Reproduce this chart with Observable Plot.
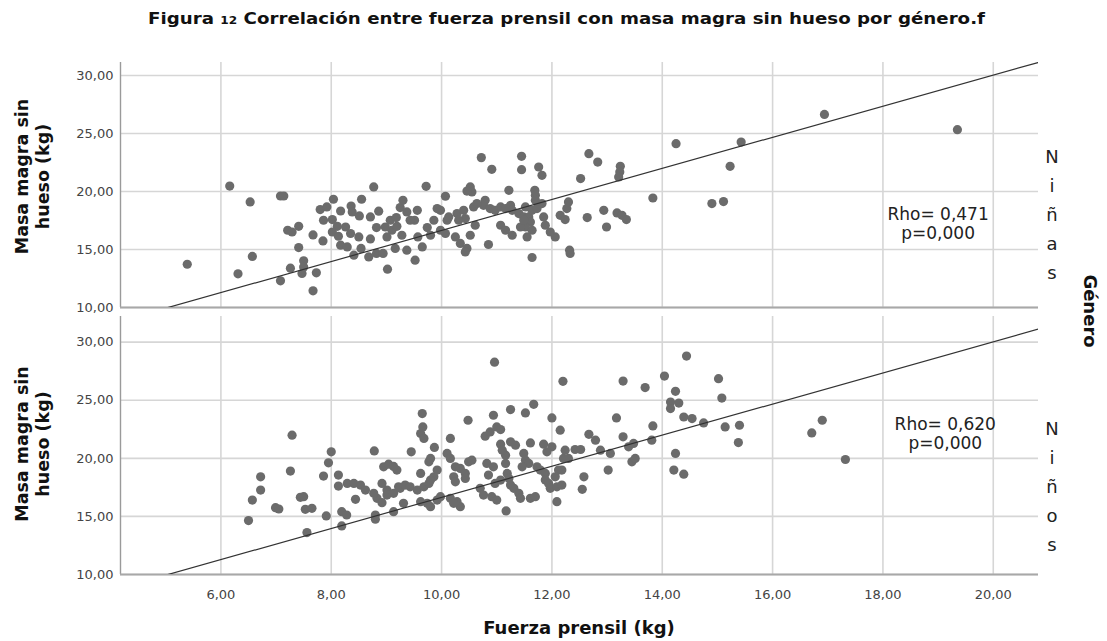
<!DOCTYPE html>
<html>
<head>
<meta charset="utf-8">
<script src="https://cdn.jsdelivr.net/npm/d3@7"></script>
<script src="https://cdn.jsdelivr.net/npm/@observablehq/plot@0.6"></script>
<style>
  body { margin: 0; background: #fff; }
  #chart { position: relative; width: 1107px; height: 641px; overflow: hidden; background: #fff; }
  #chart > svg { position: absolute; left: 0; }
</style>
</head>
<body>
<div id="chart"></div>
<script>
// Fuerza prensil (kg), masa magra sin hueso (kg) — niñas
const ninas = [
  [5.39,13.73],[6.16,20.47],[6.31,12.90],[6.53,19.10],[6.57,14.40],[7.08,19.61],[7.14,19.61],[7.08,12.30],[7.21,16.66],[7.47,12.93],
  [8.77,20.39],[9.72,20.45],[10.07,19.59],[8.04,19.33],[7.80,18.44],[7.92,18.67],[8.17,18.32],[8.36,18.75],[8.38,18.24],[8.55,19.33],
  [8.51,17.89],[8.71,17.81],[8.86,18.30],[8.82,16.89],[7.41,17.00],[7.29,16.51],[7.67,16.26],[7.85,15.74],[7.41,15.17],[7.50,14.02],
  [7.50,13.50],[7.73,12.99],[7.67,11.44],[7.86,17.52],[8.02,17.58],[8.11,17.00],[8.26,16.94],[8.35,16.38],[8.50,16.08],[8.02,16.51],
  [8.13,16.14],[8.17,15.37],[8.29,15.22],[8.71,15.91],[8.41,14.51],[8.54,15.09],[8.68,14.36],[8.82,14.66],[8.94,14.66],[9.02,13.30],
  [9.07,17.52],[9.18,17.75],[9.25,18.61],[9.30,19.24],[9.37,18.24],[9.10,16.66],[9.19,17.00],[9.28,16.23],[9.16,15.09],[9.37,14.94],
  [9.52,14.08],[9.65,15.22],[9.56,18.38],[9.51,17.52],[9.57,16.08],[9.74,16.89],[9.86,17.52],[9.92,18.53],[9.80,16.23],[9.98,16.66],
  [10.10,17.52],[10.07,16.38],[9.43,17.52],[7.26,13.39],[9.01,16.08],[8.98,16.94],
  [10.72,22.92],[10.91,21.91],[11.45,23.03],[11.45,21.88],[11.76,22.11],[11.82,21.39],[12.67,23.26],[12.83,22.54],[12.52,21.11],[10.52,20.39],
  [10.55,19.96],[10.46,20.04],[11.22,20.10],[11.69,20.10],[11.70,19.67],[10.79,19.24],[10.76,18.81],[10.88,18.53],[10.97,18.38],[11.25,18.81],
  [11.28,18.38],[11.40,18.10],[11.49,17.81],[11.52,18.67],[11.58,17.81],[11.61,17.38],[11.64,18.38],[11.73,18.53],[11.70,19.24],[11.52,16.94],
  [11.55,16.08],[11.64,16.66],[11.07,17.09],[11.16,16.66],[11.28,16.23],[11.85,17.81],[11.88,17.09],[12.06,16.08],[11.97,16.51],[10.85,15.43],
  [11.64,14.31],[12.32,14.94],[12.33,14.66],[12.15,17.95],[12.27,18.53],[12.30,19.10],[12.24,17.58],[12.64,17.75],[9.98,18.38],[10.13,17.81],
  [10.28,18.10],[10.40,18.38],[10.43,17.67],[10.25,16.08],[10.34,15.52],[10.46,15.09],[10.43,14.79],[10.52,16.23],[10.61,17.09],[10.58,18.67],
  [10.64,18.96],[10.31,17.52],[11.07,18.67],[11.16,18.53],[11.43,16.94],[11.49,17.52],[11.82,18.96],
  [13.24,22.17],[13.23,21.68],[13.21,21.25],[14.25,24.12],[15.43,24.26],[15.23,22.17],[13.83,19.44],[14.90,18.96],[15.11,19.13],[12.94,18.38],
  [12.99,16.94],[13.18,18.15],[13.27,17.95],[13.35,17.58],[16.94,26.64],[19.35,25.33]
];

// Fuerza prensil (kg), masa magra sin hueso (kg) — niños
const ninos = [
  [6.50,14.64],[6.57,16.41],[6.72,18.41],[6.72,17.27],[6.99,15.75],[7.05,15.64],[7.29,21.99],[7.26,18.90],[7.44,16.64],[7.50,16.70],
  [7.53,15.61],[7.65,15.70],[7.56,13.61],[7.91,15.04],[7.86,18.47],[7.95,19.61],[8.00,20.56],[8.13,18.56],[8.13,17.61],[8.19,15.41],
  [8.28,15.12],[8.19,14.18],[8.29,17.84],[8.41,17.84],[8.53,17.70],[8.62,17.27],[8.44,16.47],[8.78,20.64],[8.80,15.12],[8.80,14.76],
  [8.95,19.27],[9.04,19.50],[8.92,17.84],[9.01,17.27],[8.83,16.56],[8.92,16.18],[9.13,15.41],[9.19,18.99],[9.22,17.55],
  [9.13,19.30],[8.77,16.99],[9.01,16.84],[9.13,16.99],[9.25,17.42],[9.34,17.70],[9.43,17.55],[9.31,16.13],[9.45,20.56],[9.65,23.85],
  [9.66,22.70],[9.62,22.14],[9.68,21.71],[9.87,20.94],[9.77,19.70],[9.62,18.70],[9.56,17.27],[9.68,17.55],[9.77,17.84],[9.86,18.41],
  [9.92,18.99],[9.62,16.27],[9.74,16.13],[9.80,15.84],[9.92,16.41],
  [12.20,26.63],[10.48,23.28],[10.94,23.71],[11.25,24.20],[11.52,23.91],[11.67,24.65],[12.00,23.48],[12.15,22.42],[10.16,21.71],[10.79,21.91],
  [10.88,22.27],[11.00,22.70],[11.07,22.48],[11.07,21.22],[11.25,21.42],[11.34,21.13],[11.61,21.33],[11.85,21.22],[12.00,20.99],[11.91,20.56],
  [12.42,20.76],[12.52,20.76],[10.10,20.42],[10.16,19.99],[10.25,19.27],[10.34,19.13],[10.49,19.70],[10.55,19.84],[9.80,19.99],[9.80,18.13],
  [10.22,18.41],[10.25,17.98],[10.43,18.70],[10.43,18.27],[9.98,16.70],[10.16,16.56],[10.28,16.27],[10.34,15.84],[10.22,16.13],[10.82,19.56],
  [10.94,19.27],[10.85,18.56],[10.70,17.42],[10.76,16.84],[10.91,16.70],[11.00,16.41],[10.97,17.84],[11.07,18.13],[11.19,18.70],[11.22,18.27],
  [11.16,19.56],[11.16,20.27],[11.10,20.70],[11.25,17.70],[11.31,17.42],[11.40,16.99],[11.43,16.56],[11.17,15.47],[11.49,20.42],[11.52,19.84],
  [11.58,19.56],[11.46,19.27],[11.61,16.56],[11.70,16.70],[11.73,19.27],[11.79,18.99],[11.88,18.70],[11.88,18.13],[11.94,17.84],[11.97,17.42],
  [12.09,17.55],[12.18,17.70],[12.06,18.41],[12.12,18.99],[12.18,18.99],[12.09,16.27],[12.21,19.99],[12.30,19.99],[12.24,20.70],[12.58,18.41],
  [12.55,17.33],
  [10.96,28.28],[13.29,26.65],[13.69,26.09],[14.04,27.08],[14.44,28.80],[15.02,26.86],[15.08,25.19],[14.24,25.77],[14.15,24.85],[14.15,24.28],
  [14.30,24.76],[14.39,23.56],[14.54,23.42],[14.75,23.05],[15.14,22.70],[15.40,22.85],[15.38,21.36],[14.24,20.42],[14.21,18.99],[14.39,18.64],
  [13.17,23.48],[13.83,22.79],[13.29,21.85],[13.39,20.99],[13.48,21.28],[13.81,21.56],[13.45,19.70],[13.51,19.99],[12.67,22.07],[12.79,21.56],
  [12.88,20.70],[13.06,20.42],[13.02,18.99],[16.71,22.19],[16.90,23.28],[17.32,19.90]
];

const generos = ["Niñas", "Niños"];
const rhoValues = ["0,471", "0,620"];
const pValues = ["0,000", "0,000"];

const xTicks = [6, 8, 10, 12, 14, 16, 18, 20];
const yTicks = [10, 15, 20, 25, 30];

// Total fit line: masa = intercept + slope * fuerza
const fitIntercept = 3.25;
const fitSlope = 1.339;

const xDomain = [4.18, 20.82];
const fmt = d => d.toFixed(2).replace(".", ",");
const W = 1107;
const chart = document.getElementById("chart");

function panel(data, i, cfg) {
  const fitLine = xDomain.map(x => ({x, y: fitIntercept + fitSlope * x}));
  const svg = Plot.plot({
    width: W,
    height: cfg.height,
    marginLeft: 120,
    marginRight: 69,
    marginTop: cfg.marginTop,
    marginBottom: cfg.marginBottom,
    style: {fontFamily: "DejaVu Sans", fontSize: "13px", color: "#444", background: "transparent", overflow: "visible"},
    x: cfg.showX
      ? {domain: xDomain, ticks: xTicks, tickFormat: fmt, tickSize: 0, tickPadding: 15, label: null}
      : {domain: xDomain, axis: null},
    y: {domain: [10, cfg.yMax], ticks: yTicks, tickFormat: fmt, tickSize: 0, tickPadding: 7, label: null},
    marks: [
      Plot.gridX(xTicks, {stroke: "#d6d6d6", strokeOpacity: 1, strokeWidth: 1.6}),
      Plot.gridY(yTicks, {stroke: "#d6d6d6", strokeOpacity: 1, strokeWidth: 1.6}),
      Plot.ruleX([xDomain[0]], {stroke: "#9a9a9a", strokeWidth: 1.4}),
      Plot.ruleY([yTicks[0]], {stroke: "#a8a8a8", strokeWidth: 2.2}),
      Plot.dot(data, {x: d => d[0], y: d => d[1], r: 4.6, fill: "#6b6b6b", stroke: "none"}),
      Plot.line(fitLine, {x: "x", y: "y", stroke: "#333", strokeWidth: 1.2, clip: true}),
      Plot.text([`Rho= ${rhoValues[i]}\np=${pValues[i]}`], {
        x: cfg.statX, y: cfg.statY, text: d => d, fontSize: 17, lineHeight: 1.15,
        fill: "#222", textAnchor: "middle"
      })
    ]
  });
  svg.style.top = cfg.top + "px";
  chart.appendChild(svg);
}

panel(ninas, 0, {top: 0, height: 330, marginTop: 62, marginBottom: 23, yMax: 31.12, showX: false, statX: 19.0, statY: 17.26});
panel(ninos, 1, {top: 310, height: 331, marginTop: 6, marginBottom: 67, yMax: 32.21, showX: true, statX: 19.13, statY: 22.14});

// Titles, axis titles and panel strips
const ov = d3.select(chart).append("svg")
  .attr("width", W).attr("height", 641)
  .style("top", "0px").style("pointer-events", "none")
  .attr("font-family", "DejaVu Sans");

const title = ov.append("text")
  .attr("x", 148).attr("y", 24)
  .attr("font-weight", "bold").attr("font-size", 16.5).attr("fill", "#111")
  .attr("textLength", 837).attr("lengthAdjust", "spacingAndGlyphs");
title.append("tspan").text("Figura ");
title.append("tspan").attr("font-size", 11).text("12");
title.append("tspan").text("  Correlación entre fuerza prensil con masa magra sin hueso por género.f");

const yTitle = ["Masa magra sin", "hueso (kg)"];
[176.5, 444].forEach(cy => {
  yTitle.forEach((line, k) => {
    ov.append("text")
      .attr("transform", `translate(${28 + 21 * k},${cy}) rotate(-90)`)
      .attr("text-anchor", "middle").attr("font-weight", "bold")
      .attr("font-size", 17.5).attr("fill", "#111").text(line);
  });
});

ov.append("text")
  .attr("x", 579).attr("y", 634).attr("text-anchor", "middle")
  .attr("font-weight", "bold").attr("font-size", 18).attr("fill", "#111")
  .text("Fuerza prensil (kg)");

ov.append("text")
  .attr("transform", "translate(1084,311) rotate(90)")
  .attr("text-anchor", "middle").attr("font-weight", "bold")
  .attr("font-size", 18).attr("fill", "#111").text("Género");

[163, 435].forEach((y0, gi) => {
  Array.from(generos[gi]).forEach((ch, k) => {
    ov.append("text")
      .attr("x", 1052).attr("y", y0 + 29 * k).attr("text-anchor", "middle")
      .attr("font-size", 18).attr("fill", "#222").text(ch);
  });
});
</script>
</body>
</html>
